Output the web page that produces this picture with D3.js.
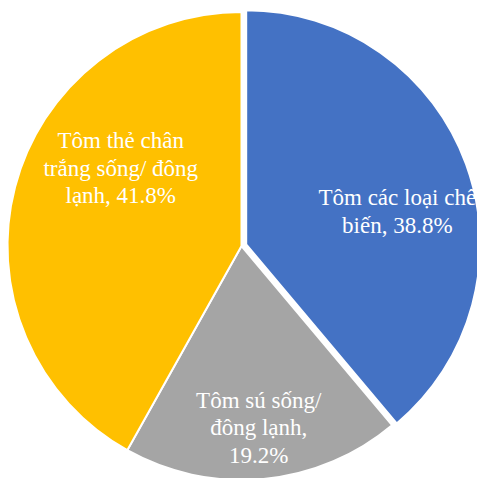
<!DOCTYPE html>
<html>
<head>
<meta charset="utf-8">
<script src="https://cdn.jsdelivr.net/npm/d3@7"></script>
<style>
  html, body { margin: 0; padding: 0; background: #fff; overflow: hidden; }
  svg { display: block; }
</style>
</head>
<body>
<div id="chart"></div>
<script>
// Shrimp export structure (share of value, %)
const categories = ["Tôm các loại chế biến", "Tôm sú sống/ đông lạnh", "Tôm thẻ chân trắng sống/ đông lạnh"];
const shares = [38.8, 19.2, 41.8];
const colors = ["#4472C4", "#A5A5A5", "#FFC000"];
// Label text split over lines, the last line carrying the value
const labelLines = [
  ["Tôm các loại chế", "biến, "],
  ["Tôm sú sống/", "đông lạnh,", ""],
  ["Tôm thẻ chân", "trắng sống/ đông", "lạnh, "]
];
// Radial position of each label (fraction of radius) and small nudges
const labelRadius = [0.66, 0.78, 0.52];
const labelNudge = [[6, 20], [0, 0], [-3, -47]];
const explode = [5, 0, 0];

const W = 477, H = 478;
const cx = 241.5, cy = 246, R = 234;

const svg = d3.select("#chart").append("svg")
  .attr("width", W).attr("height", H);

const pie = d3.pie().sort(null).value(d => d.value);
const data = pie(categories.map((c, i) => ({ name: c, value: shares[i], i })));
const arc = d3.arc().innerRadius(0).outerRadius(R);

const g = svg.append("g").attr("transform", `translate(${cx},${cy})`);

const offset = d => {
  const a = (d.startAngle + d.endAngle) / 2;
  const e = explode[d.data.i];
  return [Math.sin(a) * e, -Math.cos(a) * e];
};

g.selectAll("path.slice").data(data).join("path")
  .attr("class", "slice")
  .attr("d", arc)
  .attr("transform", d => `translate(${offset(d)})`)
  .attr("fill", d => colors[d.data.i])
  .attr("stroke", "#fff")
  .attr("stroke-width", 2)
  .attr("stroke-linejoin", "round");

const fmt = d3.format(".1f");
const fontSize = 23, lineH = 27.5;

data.forEach(d => {
  const i = d.data.i;
  const la = d3.arc().innerRadius(R * labelRadius[i]).outerRadius(R * labelRadius[i]);
  const [x0, y0] = la.centroid(d);
  const [ox, oy] = offset(d);
  const x = x0 + ox + labelNudge[i][0];
  const y = y0 + oy + labelNudge[i][1];
  const lines = labelLines[i].slice();
  lines[lines.length - 1] += fmt(d.data.value) + "%";
  const t = g.append("text")
    .attr("text-anchor", "middle")
    .attr("font-family", "'Liberation Serif', 'Times New Roman', serif")
    .attr("font-size", fontSize)
    .attr("fill", "#fff");
  const top = y - (lines.length - 1) * lineH / 2 + fontSize * 0.33;
  lines.forEach((s, k) => {
    t.append("tspan").attr("x", x).attr("y", top + k * lineH).text(s);
  });
});
</script>
</body>
</html>
